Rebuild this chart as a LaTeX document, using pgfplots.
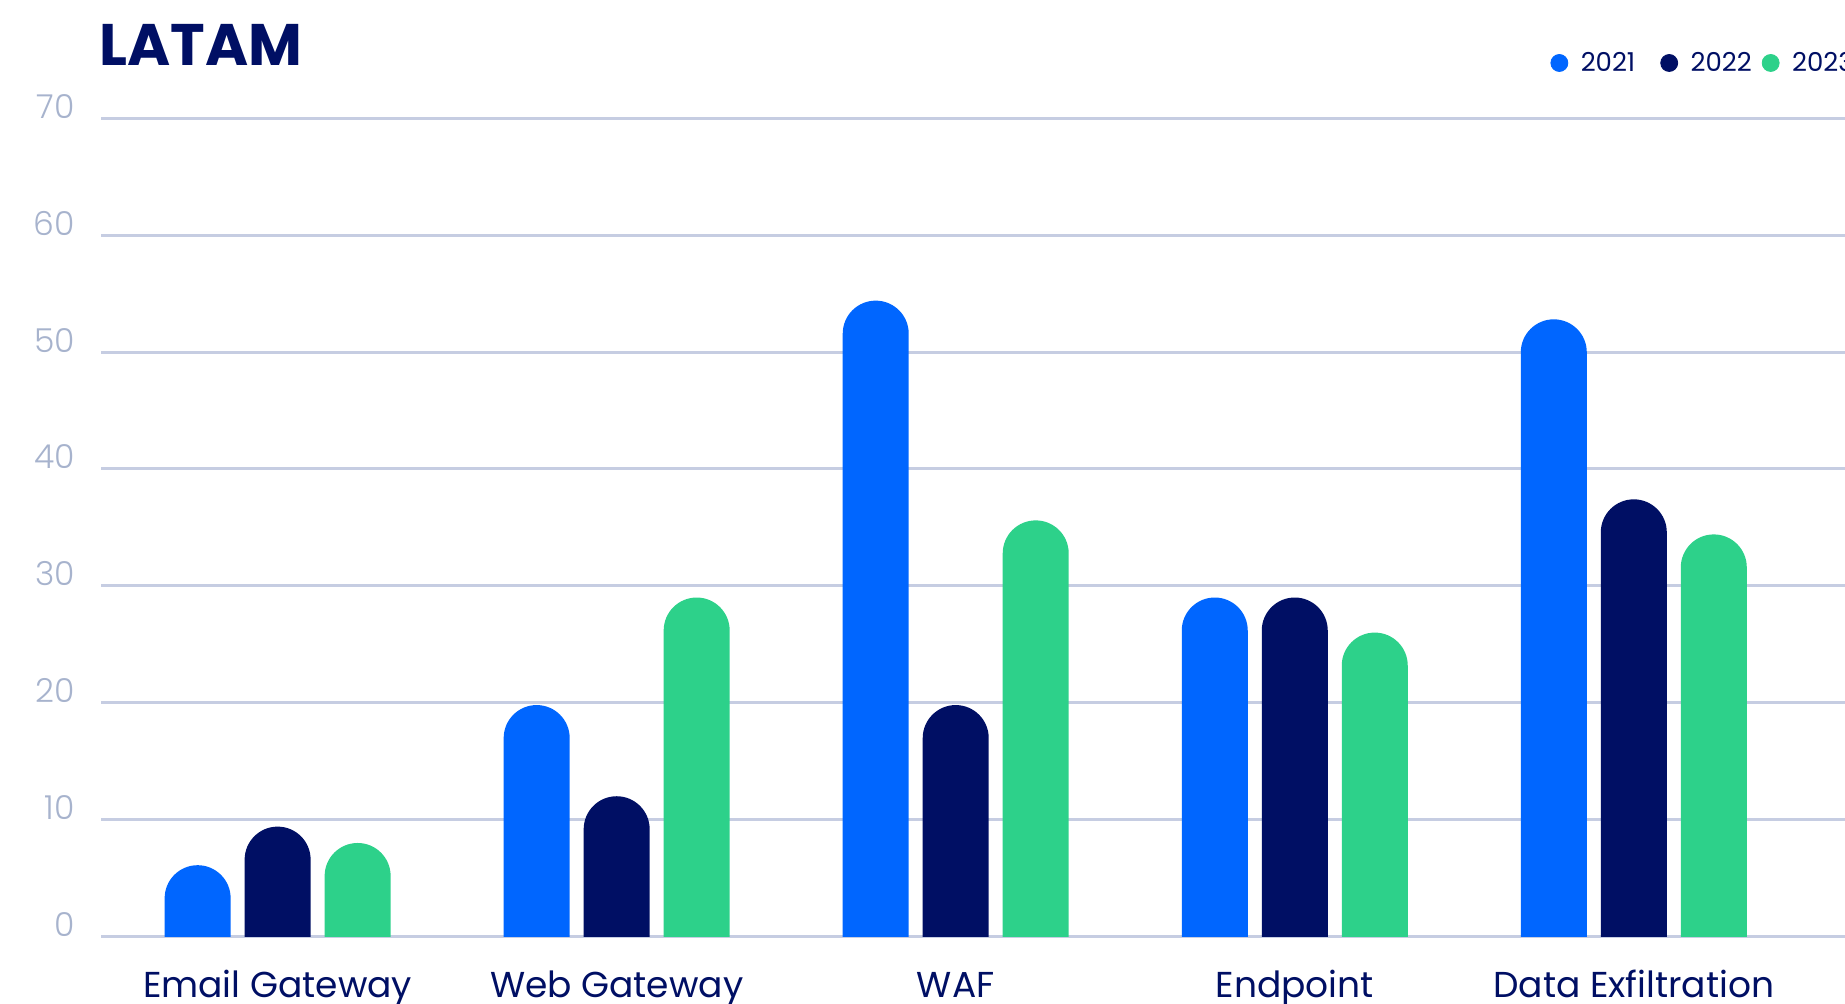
\documentclass[border=0pt]{standalone}
\usepackage{pgfplots}
\pgfplotsset{compat=1.18}
\usepackage{pgfplotstable}
\usepackage{fontspec}
\setmainfont{Poppins}
\newfontfamily\poplight{Poppins Light}
\definecolor{cA}{HTML}{0066FF}
\definecolor{cB}{HTML}{000F64}
\definecolor{cC}{HTML}{2DD18A}
\definecolor{navy}{HTML}{000F64}
\definecolor{gridc}{HTML}{C6CDE2}
\definecolor{tickc}{HTML}{A7B3CD}
\pgfplotstableread{
x  a     b     c
0  6.1   9.4   8.0
1  19.8  12.0  29.0
2  54.4  19.8  35.6
3  29.0  29.0  26.0
4  52.8  37.4  34.4
}\datatable
% column marks: drawn at the data point (top of bar), reaching down below the axis (clipped at y=0)
\pgfdeclareplotmark{rbarL}{%
  \pgfpathmoveto{\pgfqpoint{-56.5pt}{-700pt}}%
  \pgfpathlineto{\pgfqpoint{-56.5pt}{-16.5pt}}%
  \pgfpatharc{180}{0}{16.5pt}%
  \pgfpathlineto{\pgfqpoint{-23.5pt}{-700pt}}%
  \pgfpathclose\pgfusepathqfill}
\pgfdeclareplotmark{rbarM}{%
  \pgfpathmoveto{\pgfqpoint{-16.5pt}{-700pt}}%
  \pgfpathlineto{\pgfqpoint{-16.5pt}{-16.5pt}}%
  \pgfpatharc{180}{0}{16.5pt}%
  \pgfpathlineto{\pgfqpoint{16.5pt}{-700pt}}%
  \pgfpathclose\pgfusepathqfill}
\pgfdeclareplotmark{rbarR}{%
  \pgfpathmoveto{\pgfqpoint{23.5pt}{-700pt}}%
  \pgfpathlineto{\pgfqpoint{23.5pt}{-16.5pt}}%
  \pgfpatharc{180}{0}{16.5pt}%
  \pgfpathlineto{\pgfqpoint{56.5pt}{-700pt}}%
  \pgfpathclose\pgfusepathqfill}
\pgfplotsset{
  rbar/.style={only marks, mark=#1,
    legend image code/.code={\fill (0pt,0pt) circle (4.25pt);}},
}
\begin{document}
\begin{tikzpicture}
\path[use as bounding box] (0,0) rectangle (922.5pt,502pt);
\clip (0,0) rectangle (922.5pt,502pt);
\begin{axis}[
  at={(50.5pt,33.75pt)}, anchor=south west,
  scale only axis, width=872pt, height=409.1pt,
  xmin=-0.521, xmax=4.623, ymin=0, ymax=70,
  clip marker paths=true,
  axis line style={draw=none},
  major tick length=0pt,
  ytick={0,10,...,70},
  xtick={0,1,2,3,4},
  xticklabels={Email Gateway, Web Gateway, WAF, Endpoint, Data Exfiltration},
  ymajorgrids,
  grid style={line width=1.5pt, color=gridc},
  /pgf/number format/assume math mode=true,
  yticklabel style={font=\poplight\fontsize{16.5}{16.5}\selectfont, text=tickc,
    anchor=base east, inner sep=0pt, xshift=-12.85pt},
  xticklabel style={font=\fontsize{18}{18}\selectfont, text=navy,
    anchor=base, inner sep=0pt, yshift=-30.75pt},
  legend columns=3,
  legend style={draw=none, fill=none, at={(0.8311,1.0676)}, anchor=west,
    inner sep=0pt, outer sep=0pt,
    font=\fontsize{13}{13}\selectfont, text=navy,
    nodes={inner sep=0pt},
    /tikz/column 1/.style={column sep=6.25pt},
    /tikz/column 2/.style={column sep=12.5pt},
    /tikz/column 3/.style={column sep=6.25pt},
    /tikz/column 4/.style={column sep=5pt},
    /tikz/column 5/.style={column sep=6.25pt}},
]
\addplot[rbar=rbarL, color=cA] table[x=x,y=a]{\datatable};
\addlegendentry{2021}
\addplot[rbar=rbarM, color=cB] table[x=x,y=b]{\datatable};
\addlegendentry{2022}
\addplot[rbar=rbarR, color=cC] table[x=x,y=c]{\datatable};
\addlegendentry{2023}
\end{axis}
\node[anchor=base west, inner sep=0pt, text=navy, font=\bfseries\fontsize{29.3}{29.3}\selectfont] at (49.5pt,469.2pt) {LATAM};
\end{tikzpicture}
\end{document}
